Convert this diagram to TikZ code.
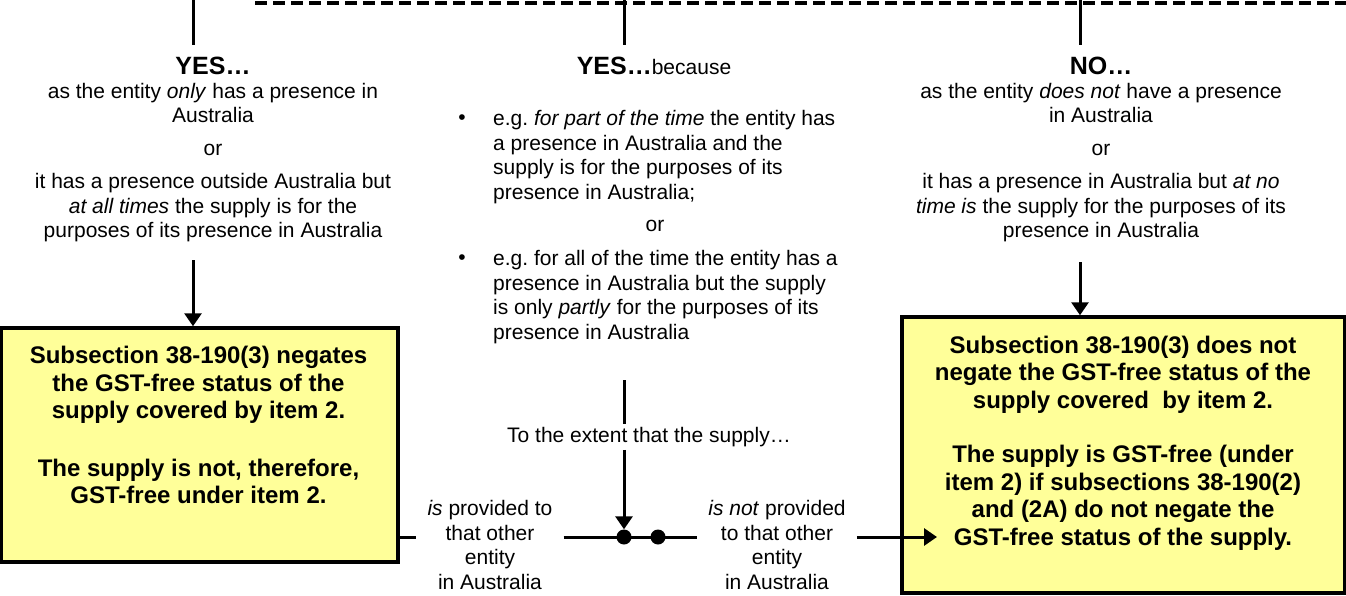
\documentclass[tikz,border=0pt]{standalone}
\usepackage{fontspec}
\setmainfont{Liberation Sans}
\usetikzlibrary{arrows.meta}
\definecolor{boxyellow}{RGB}{255,255,153}
\frenchspacing

\tikzset{
  body/.style={font={\fontsize{21}{24.5}\selectfont}, inner sep=0pt},
  head/.style={font={\fontsize{25}{28}\selectfont\bfseries}, inner xsep=0pt, inner ysep=12pt},
  ybox/.style={draw, line width=3.5pt, fill=boxyellow, inner sep=0pt},
  boxtext/.style={font={\fontsize{24}{27.5}\selectfont\bfseries}, align=center, inner sep=0pt},
  conn/.style={line width=3pt},
  arr/.style={conn, -{Triangle[length=13pt,width=17pt]}},
  blob/.style={circle, fill, inner sep=0pt, minimum size=15pt},
}

\begin{document}
\begin{tikzpicture}[x=1pt, y=-1pt]
\useasboundingbox (0,0) rectangle (1346,596);

\coordinate (k0) at (255,3); \coordinate (k1) at (1346,3);
\coordinate (c1) at (193,0); \coordinate (c2) at (624,0); \coordinate (c3) at (1080,0);
\coordinate (a1) at (193,260); \coordinate (a2) at (1080,262);
\coordinate (c5) at (624,380); \coordinate (e2) at (937,537);

% headings
\node[head] (h1) at (213,66) {YES…};
\node[head] (h2) at (654,66) {YES…{\mdseries\fontsize{21}{24.5}\selectfont because}};
\node[head] (h3) at (1101,66) {NO…};

% answers
\node[body, align=center] (t1) at (213,162.5) {as the entity \textit{only} has a presence in\\ Australia\\[8.5pt] or\\[8.5pt] it has a presence outside Australia but\\ \textit{at all times} the supply is for the\\ purposes of its presence in Australia};
\node[body, align=center] (t3) at (1101,162.5) {as the entity \textit{does not} have a presence\\ in Australia\\[8.5pt] or\\[8.5pt] it has a presence in Australia but \textit{at no}\\ \textit{time is} the supply for the purposes of its\\ presence in Australia};

\node[body, anchor=west, align=left] (m1) at (493,157) {e.g. \textit{for part of the time} the entity has\\ a presence in Australia and the\\ supply is for the purposes of its\\ presence in Australia;};
\node[body] (u1) at (462,120) {\textbullet};
\node[body] (o2) at (655,226) {or};
\node[body, anchor=west, align=left] (m2) at (493,297) {e.g. for all of the time the entity has a\\ presence in Australia but the supply\\ is only \textit{partly} for the purposes of its\\ presence in Australia};
\node[body] (u2) at (462,260) {\textbullet};

% outcome boxes
\node[ybox, minimum width=397pt, minimum height=234pt] (b1) at (199.5,445) {};
\node[boxtext] (bt1) at (198.5,425) {Subsection 38-190(3) negates\\ the GST-free status of the\\ supply covered by item 2.\\[30pt] The supply is not, therefore,\\ GST-free under item 2.};
\node[ybox, minimum width=443pt, minimum height=276pt] (b2) at (1123.5,455) {};
\node[boxtext] (bt2) at (1123,443) {Subsection 38-190(3) does not\\ negate the GST-free status of the\\ supply covered~ by item 2.\\[27pt] The supply is GST-free (under\\ item 2) if subsections 38-190(2)\\ and (2A) do not negate the\\ GST-free status of the supply.};

% extent split
\node[body, inner ysep=3pt] (e1) at (649,437) {To the extent that the supply…};
\node[blob] (d1) at (624,537) {}; \node[blob] (d2) at (658,537) {};
\node[body, align=center, inner xsep=11pt] (l1) at (490,545) {\textit{is} provided to\\ that other\\ entity\\ in Australia};
\node[body, align=center, inner xsep=11pt] (l2) at (777,545) {\textit{is not} provided\\ to that other\\ entity\\ in Australia};

\draw[conn, line width=3.5pt, dash pattern=on 12pt off 6pt] (k0) -- (k1);
\draw[conn] (c1) -- (c1 |- h1.north);
\draw[conn] (c2) -- (c2 |- h2.north);
\draw[conn] (c3) -- (c3 |- h3.north);
\draw[arr] (a1) -- (a1 |- b1.north);
\draw[arr] (a2) -- (a2 |- b2.north);
\draw[conn] (c5) -- (c5 |- e1.north);
\draw[arr] (c5 |- e1.south) -- (d1.north);
\draw[conn] (b1.east |- d1) -- (l1.west |- d1);
\draw[conn] (l1.east |- d1) -- (l2.west |- d1);
\draw[arr] (l2.east |- d1) -- (e2);
\end{tikzpicture}
\end{document}
